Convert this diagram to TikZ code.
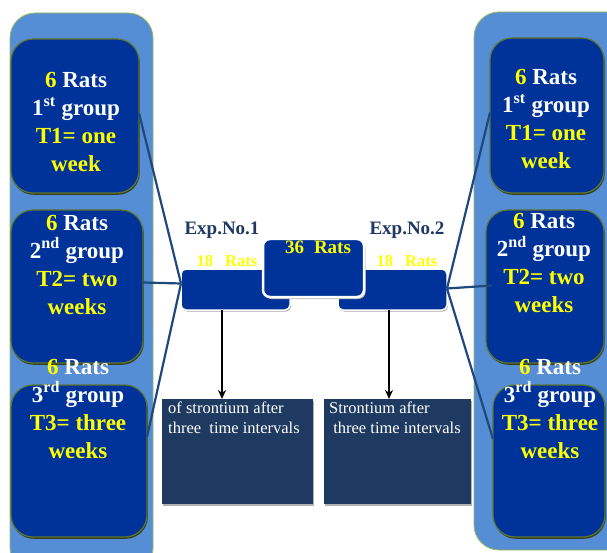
\documentclass[tikz,border=0pt]{standalone}
\usepackage{fontspec}
\setmainfont{Liberation Serif}[BoldFont={Liberation Serif Bold}]
\usetikzlibrary{arrows.meta,shadows}
\definecolor{panel}{RGB}{85,142,213}
\definecolor{panelbd}{RGB}{155,187,89}
\definecolor{boxblue}{RGB}{0,51,153}
\definecolor{boxbd}{RGB}{95,117,48}
\definecolor{navy}{RGB}{31,56,100}
\definecolor{stbox}{RGB}{31,58,96}
\definecolor{linec}{RGB}{31,73,125}
\definecolor{ylw}{RGB}{255,255,0}
\tikzset{
  panelbox/.style={draw=panelbd, line width=0.8pt, fill=panel, rounded corners=25pt,
    anchor=north west, inner sep=0pt, outer sep=0pt},
  grpbox/.style={draw=boxbd, line width=1.2pt, fill=boxblue, rounded corners=22pt,
    anchor=north west, inner sep=0pt, outer sep=0pt,
    drop shadow={shadow xshift=0.8pt, shadow yshift=-1.8pt, fill=boxbd!55!black, opacity=1}},
  barbox/.style={draw=white, line width=1.5pt, fill=boxblue, rounded corners=5pt,
    anchor=north west, inner sep=0pt, outer sep=0pt,
    drop shadow={shadow xshift=1pt, shadow yshift=-1.5pt, fill=black!35, opacity=1}},
  ctrbox/.style={draw=white, line width=2.5pt, fill=boxblue, rounded corners=7pt,
    anchor=north west, inner sep=0pt, outer sep=0pt,
    drop shadow={shadow xshift=1.5pt, shadow yshift=-2pt, fill=black!30, opacity=1}},
  stbx/.style={fill=stbox, anchor=north west, inner sep=0pt, outer sep=0pt,
    drop shadow={shadow xshift=1pt, shadow yshift=-1.5pt, fill=black!30, opacity=1}},
  grptext/.style={align=center, text=white, font=\fontsize{23}{28}\selectfont\bfseries, inner sep=0pt},
  exptext/.style={text=navy, font=\fontsize{19}{22}\selectfont\bfseries, inner sep=0pt},
  ratstext/.style={text=ylw, font=\fontsize{16.5}{20}\selectfont\bfseries, inner sep=0pt},
  sttext/.style={align=left, text=white, font=\fontsize{16.5}{20}\selectfont, inner sep=0pt, anchor=north west},
  conn/.style={draw=linec, line width=2.2pt},
  arr/.style={draw=black, line width=1.8pt, -{Stealth[length=9pt,width=8pt]}},
}
\newcommand{\Y}[1]{\textcolor{ylw}{#1}}
\begin{document}
\begin{tikzpicture}[x=1pt,y=-1pt]
\useasboundingbox (0,0) rectangle (607,553);
\clip (0,0) rectangle (607,553);
\fill[white] (0,0) rectangle (607,553);

% panels
\node[panelbox, minimum width=143pt, minimum height=560pt] (LP) at (10,13) {};
\node[panelbox, minimum width=160pt, minimum height=538pt] (RP) at (474,12) {};

% group boxes
\node[grpbox, minimum width=128pt, minimum height=154pt] (L1) at (11,39) {};
\node[grpbox, minimum width=132pt, minimum height=153pt] (L2) at (11,210) {};
\node[grpbox, minimum width=136pt, minimum height=152pt] (L3) at (11,385) {};
\node[grpbox, minimum width=114pt, minimum height=155pt] (R1) at (490,38) {};
\node[grpbox, minimum width=118pt, minimum height=153pt] (R2) at (486,210) {};
\node[grpbox, minimum width=112pt, minimum height=152pt] (R3) at (493,385) {};

% group texts
\node[grptext] (tL1) at (76,122) {\Y{6} Rats\\1\textsuperscript{st} group\\\Y{T1= one}\\\Y{week}};
\node[grptext] (tL2) at (77,264.5) {\Y{6} Rats\\2\textsuperscript{nd} group\\\Y{T2= two}\\\Y{weeks}};
\node[grptext] (tL3) at (78,408.5) {\Y{6} Rats\\3\textsuperscript{rd} group\\\Y{T3= three}\\\Y{weeks}};
\node[grptext] (tR1) at (546,119) {\Y{6} Rats\\1\textsuperscript{st} group\\\Y{T1= one}\\\Y{week}};
\node[grptext] (tR2) at (544,263) {\Y{6} Rats\\2\textsuperscript{nd} group\\\Y{T2= two}\\\Y{weeks}};
\node[grptext] (tR3) at (550,408.5) {\Y{6} Rats\\3\textsuperscript{rd} group\\\Y{T3= three}\\\Y{weeks}};

% bottom boxes
\node[stbx, minimum width=151pt, minimum height=105pt] (S1) at (162,399) {};
\node[stbx, minimum width=147pt, minimum height=105pt] (S2) at (324,399) {};
\node[sttext] (tS1) at (168,401.5) {of strontium after\\three\ \ time intervals};
\node[sttext] (tS2) at (329,401.5) {Strontium after\\\ three time intervals};

% middle bars
\node[barbox, minimum width=109pt, minimum height=41pt] (B1) at (181,269) {};
\node[barbox, minimum width=109pt, minimum height=41pt] (B2) at (338,269) {};
\node[ctrbox, minimum width=101pt, minimum height=58pt] (C) at (263,239) {};

% middle texts
\node[exptext] (e1) at (222,230) {Exp.No.1};
\node[exptext] (e2) at (407,230) {Exp.No.2};
\node[ratstext] (r1) at (227,261) {18\hspace{12pt}Rats};
\node[ratstext] (r2) at (407,261) {18\hspace{12pt}Rats};
\node[ratstext, font=\fontsize{19}{22}\selectfont\bfseries] (r0) at (318,247) {36\hspace{10pt}Rats};

% connectors
\coordinate (JL) at ([yshift=6pt]B1.west);
\coordinate (JR) at ([yshift=1pt]B2.east);
\draw[conn] (JL) -- ([yshift=3pt]L1.east);
\draw[conn] (JL) -- ([yshift=4pt]L2.east);
\draw[conn] (JL) -- ([yshift=24pt]L3.east);
\draw[conn] (JR) -- ([yshift=3pt]R1.west);
\draw[conn] (JR) -- ([xshift=6pt,yshift=1pt]R2.west);
\draw[conn] (JR) -- ([yshift=22pt]R3.west);

% arrows
\draw[arr] ([xshift=-13.5pt]B1.south) -- ([xshift=-13.5pt]B1.south |- S1.north);
\draw[arr] ([xshift=-3.5pt]B2.south) -- ([xshift=-3.5pt]B2.south |- S2.north);
\end{tikzpicture}
\end{document}
